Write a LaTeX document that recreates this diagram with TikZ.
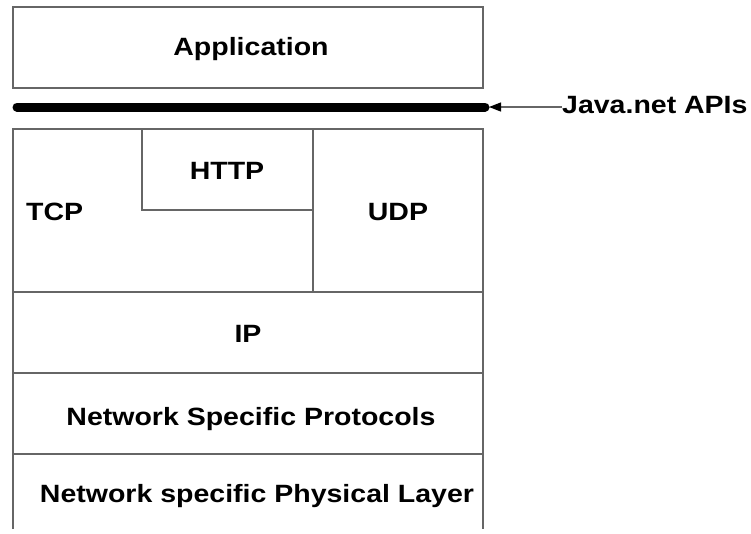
\documentclass[tikz,border=0pt]{standalone}
\usepackage{fontspec}
\setmainfont{Liberation Sans}
\usepackage{graphicx}
\usetikzlibrary{arrows.meta}
\newcommand\widetext[1]{\scalebox{1.14}[1]{#1}}
\begin{document}
\begin{tikzpicture}[x=1pt, y=-1pt, layer style/.style={draw=black!60, line width=1.3pt}, label style/.style={font=\fontsize{25}{30}\selectfont\bfseries, inner sep=0pt, anchor=base}]
	\useasboundingbox (0,0) rectangle (751,533);
	% boxes of the stack
	\draw[layer style] (13,7) rectangle (483,88);
	\draw[layer style] (13,529) -- (13,129) -- (483,129) -- (483,529);
	\draw[layer style] (142,129) -- (142,210) -- (313,210);
	\draw[layer style] (313,129) -- (313,292);
	\foreach \y in {292,373,454}
	\draw[layer style] (13,\y) -- (483,\y);
	% API line
	\draw[line width=9pt, line cap=round] (17,107) -- (485,107);
	% labels
	\node[label style] (app) at (251,55) {\widetext{Application}};
	\node[label style, anchor=base west] (api) at (562,113) {\widetext{Java.net APIs}};
	\node[label style] (http) at (227,179) {\widetext{HTTP}};
	\node[label style, anchor=base west] (tcp) at (26,220) {\widetext{TCP}};
	\node[label style] (udp) at (398,220) {\widetext{UDP}};
	\node[label style] (ip) at (248,342) {\widetext{IP}};
	\node[label style] (netproto) at (251,425) {\widetext{Network Specific Protocols}};
	\node[label style] (netphys) at (257,502) {\widetext{Network specific Physical Layer}};
	\coordinate (apitip) at (489,107);
	\draw[black!60, line width=1.3pt, -{Triangle[length=12pt, width=9pt, color=black]}] (apitip -| api.west) -- (apitip);
\end{tikzpicture}
\end{document}
